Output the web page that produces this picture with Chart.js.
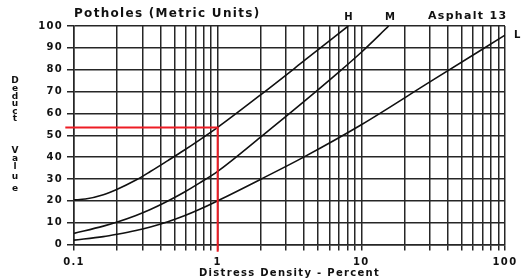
<!DOCTYPE html>
<html>
<head>
<meta charset="utf-8">
<title>Potholes (Metric Units)</title>
<script src="https://cdn.jsdelivr.net/npm/chart.js@4.4.0/dist/chart.umd.min.js"></script>
<style>
  html, body { margin: 0; padding: 0; background: #fff; }
  #wrap { width: 523px; height: 279px; }
</style>
</head>
<body>
<div id="wrap"><canvas id="potholeChart" width="523" height="279"></canvas></div>
<script>
// Deduct curves (x = distress density in %)
const highX = [0.1, 0.12, 0.16, 0.2, 0.27, 0.34, 0.45, 0.58, 0.75, 1, 2, 4, 8.1];
const highY = [20.4, 20.8, 22.8, 25.3, 29.5, 33.4, 38.4, 43, 47.9, 53.6, 68.6, 84.1, 100];

const mediumX = [0.1, 0.16, 0.2, 0.27, 0.34, 0.45, 0.58, 0.75, 1, 2, 4, 7, 10, 15.5];
const mediumY = [5.1, 8.4, 10.3, 13.3, 16, 19.9, 23.8, 28.2, 33.5, 49.3, 65.5, 79, 88, 100];

const lowX = [0.1, 0.16, 0.2, 0.27, 0.34, 0.45, 0.58, 0.75, 1, 2, 4, 10, 30, 100];
const lowY = [2, 3.6, 4.7, 6.4, 8, 10.4, 13, 16.1, 20, 29.9, 40.1, 54.8, 74.4, 95.8];

// red reading line (density 1 % -> deduct ~54)
const readX = [0.087, 1, 1];
const readY = [53.6, 53.6, -3.3];

// log grid and axis labels
const gridX = [0.1, 0.2, 0.3, 0.4, 0.5, 0.6, 0.7, 0.8, 0.9,
               1, 2, 3, 4, 5, 6, 7, 8, 9,
               10, 20, 30, 40, 50, 60, 70, 80, 90, 100];
const xLabels = [0.1, 1, 10, 100];
const yMin = 0, yMax = 100, yStep = 10;

const ink = '#111';
const gridColor = '#262626';
const tickFont = { family: '"DejaVu Sans"', size: 10, weight: 'bold' };

function toPoints(xs, ys) {
    return xs.map((x, i) => ({ x: x, y: ys[i] }));
}

function curve(label, xs, ys) {
    return {
        label: label,
        data: toPoints(xs, ys),
        borderColor: ink,
        borderWidth: 1.6,
        pointRadius: 0,
        cubicInterpolationMode: 'monotone'
    };
}

// extra sheet text: title, curve letters, stacked y title
const sheetText = {
    id: 'sheetText',
    beforeDraw(chart) {
        chart.ctx.letterSpacing = '1.3px';
    },
    afterDraw(chart) {
        const { ctx, chartArea, scales } = chart;
        const x = scales.x;
        ctx.save();
        ctx.fillStyle = ink;
        ctx.textBaseline = 'alphabetic';

        ctx.font = 'bold 12px "DejaVu Sans"';
        ctx.textAlign = 'left';
        ctx.fillText('Potholes (Metric Units)', chartArea.left, 17);

        ctx.font = 'bold 10px "DejaVu Sans"';
        ctx.textAlign = 'center';
        ctx.fillText('H', x.getPixelForValue(highX[highX.length - 1]) + 1, 20);
        ctx.fillText('M', x.getPixelForValue(mediumX[mediumX.length - 1]) + 2, 20);
        ctx.textAlign = 'left';
        ctx.fillText('L', chartArea.right + 9, 38);

        ctx.font = 'bold 11px "DejaVu Sans"';
        ctx.fillText('Asphalt 13', 428, 19);

        // "Deduct Value" written as a column of upright letters
        ctx.font = 'bold 9px "DejaVu Sans"';
        ctx.textAlign = 'center';
        ctx.textBaseline = 'middle';
        ctx.letterSpacing = '0px';
        const top = ['D', 'e', 'd', 'u', 'c', 't'];
        top.forEach((ch, i) => ctx.fillText(ch, 15, 81 + i * 7.6));
        const bottom = ['V', 'a', 'l', 'u', 'e'];
        const bottomY = [151, 159, 167, 177, 189];
        bottom.forEach((ch, i) => ctx.fillText(ch, 15, bottomY[i]));
        ctx.restore();
    }
};

new Chart(document.getElementById('potholeChart'), {
    type: 'line',
    data: {
        datasets: [
            {
                label: 'reading',
                data: toPoints(readX, readY),
                borderColor: '#ee1c24',
                borderWidth: 2,
                pointRadius: 0,
                tension: 0,
                clip: false
            },
            curve('H', highX, highY),
            curve('M', mediumX, mediumY),
            curve('L', lowX, lowY)
        ]
    },
    options: {
        responsive: false,
        animation: false,
        devicePixelRatio: 1,
        layout: { padding: { top: 26, right: 18, left: 0, bottom: 0 } },
        plugins: {
            legend: { display: false },
            tooltip: { enabled: false }
        },
        scales: {
            x: {
                type: 'logarithmic',
                min: 0.1,
                max: 100,
                afterBuildTicks: axis => { axis.ticks = gridX.map(v => ({ value: v })); },
                afterFit: axis => { axis.height = 34.5; },
                grid: { color: gridColor, lineWidth: 1.5, tickLength: 6 },
                border: { color: gridColor, width: 1.5 },
                ticks: {
                    autoSkip: false,
                    maxRotation: 0,
                    padding: 6,
                    color: ink,
                    font: tickFont,
                    callback: v => xLabels.includes(v) ? String(v) : ''
                },
                title: {
                    display: true,
                    text: 'Distress Density - Percent',
                    color: ink,
                    padding: 0,
                    font: tickFont
                }
            },
            y: {
                min: yMin,
                max: yMax,
                afterFit: axis => { axis.width = 74; },
                grid: { color: gridColor, lineWidth: 1.5, tickLength: 7 },
                border: { color: gridColor, width: 1.5 },
                ticks: { stepSize: yStep, padding: 4, color: ink, font: tickFont }
            }
        }
    },
    plugins: [sheetText]
});
</script>
</body>
</html>
